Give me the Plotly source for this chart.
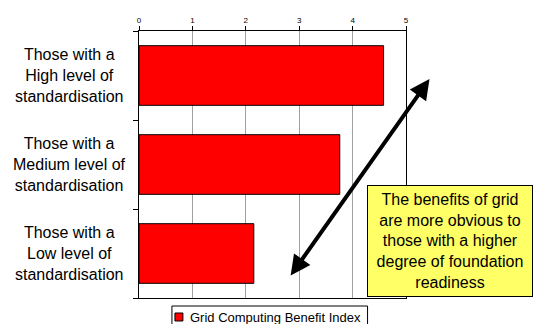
import plotly.graph_objects as go

# Benefit index by level of standardisation (bottom to top)
categories = ["Low", "Medium", "High"]
category_labels = [
    "Those with a<br>Low level of<br>standardisation",
    "Those with a<br>Medium level of<br>standardisation",
    "Those with a<br>High level of<br>standardisation",
]
benefit_index = [2.15, 3.76, 4.58]
series_name = "Grid Computing Benefit Index"
x_ticks = [0, 1, 2, 3, 4, 5]

FONT = "Arial, Liberation Sans, sans-serif"
BAR_COLOR = "#FF0000"

fig = go.Figure()
fig.add_trace(go.Bar(
    y=categories,
    x=benefit_index,
    orientation="h",
    name=series_name,
    marker=dict(color=BAR_COLOR, line=dict(color="#000000", width=1)),
    showlegend=False,
))

# Category labels, centred line by line
for cat, label in zip(categories, category_labels):
    fig.add_annotation(
        x=-0.262, xref="paper", y=cat, yref="y",
        text=label, showarrow=False, align="center",
        xanchor="center", yanchor="middle",
        font=dict(family=FONT, size=16, color="#000000"),
    )

# Double-headed trend arrow
fig.add_annotation(
    x=5.44, y=1.96, xref="x", yref="y",
    ax=2.82, ay=-0.264, axref="x", ayref="y",
    text="", showarrow=True, arrowside="end+start",
    arrowhead=2, startarrowhead=2, arrowsize=1.0, startarrowsize=1.0,
    arrowwidth=4, arrowcolor="#000000",
)

# Call-out box
fig.add_annotation(
    x=1.1645, y=0.2135, xref="paper", yref="paper",
    text="The benefits of grid<br>are more obvious to<br>those with a higher<br>degree of foundation<br>readiness",
    showarrow=False, align="center", valign="middle",
    xanchor="center", yanchor="middle",
    width=164, height=110,
    font=dict(family=FONT, size=16, color="#000000"),
    bgcolor="#FFFF66", bordercolor="#000000", borderwidth=1, borderpad=0,
)

# Legend box below the plot (runs off the bottom edge)
fig.add_shape(
    type="rect", xref="paper", yref="paper",
    x0=0.1234, x1=0.856, y0=-0.11, y1=-0.030,
    line=dict(color="#000000", width=1), fillcolor="#FFFFFF", layer="above",
)
fig.add_shape(
    type="rect", xref="paper", yref="paper",
    x0=0.1346, x1=0.1645, y0=-0.0861, y1=-0.0562,
    line=dict(color="#000000", width=1), fillcolor=BAR_COLOR, layer="above",
)
fig.add_annotation(
    x=0.1832, y=-0.0712, xref="paper", yref="paper",
    text=series_name, showarrow=False, xanchor="left", yanchor="middle",
    font=dict(family=FONT, size=13, color="#000000"),
)

fig.update_layout(
    width=536, height=324,
    margin=dict(l=139, r=129.5, t=31, b=26, autoexpand=False),
    paper_bgcolor="#FFFFFF", plot_bgcolor="#FFFFFF",
    font=dict(family=FONT, color="#000000"),
    bargap=0.33,
    showlegend=False,
    xaxis=dict(
        side="top", range=[0, 5], tickvals=x_ticks, ticktext=[str(v) for v in x_ticks],
        ticks="outside", ticklen=4, tickcolor="#000000",
        showgrid=True, gridcolor="#A0A0A0", gridwidth=1,
        showline=True, linecolor="#000000", linewidth=1, mirror=True,
        tickfont=dict(family=FONT, size=8, color="#000000"),
        zeroline=False, fixedrange=True,
    ),
    yaxis=dict(
        type="category", categoryorder="array", categoryarray=categories,
        range=[-0.5, 2.5], tickson="boundaries",
        ticks="outside", ticklen=5, tickcolor="#000000",
        showticklabels=False, showgrid=False,
        showline=True, linecolor="#000000", linewidth=1, mirror=True,
        fixedrange=True,
    ),
)

fig.write_html("out.html")
